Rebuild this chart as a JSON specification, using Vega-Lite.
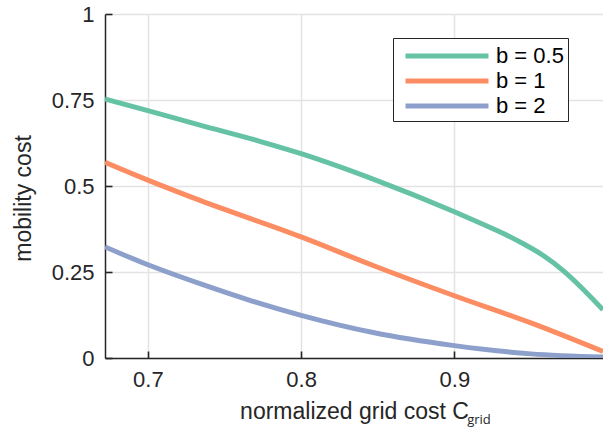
{
  "$schema": "https://vega.github.io/schema/vega-lite/v6.json",
  "width": 498,
  "height": 344,
  "autosize": {"type": "none"},
  "padding": {"left": 105, "top": 14, "right": 0, "bottom": 69},
  "background": "white",
  "config": {
    "view": {"stroke": null},
    "font": "Liberation Sans",
    "axis": {
      "domainColor": "#262626",
      "domainWidth": 1.5,
      "tickColor": "#262626",
      "tickWidth": 1.6,
      "tickSize": -7,
      "gridColor": "#e3e3e3",
      "gridWidth": 1.5,
      "labelColor": "#262626",
      "labelFontSize": 22,
      "titleColor": "#262626",
      "titleFontSize": 23,
      "titleFontWeight": "normal"
    }
  },
  "data": {
    "values": [
      {"x": 0.672, "y": 0.753, "b": "b = 0.5"},
      {"x": 0.700, "y": 0.719, "b": "b = 0.5"},
      {"x": 0.734, "y": 0.677, "b": "b = 0.5"},
      {"x": 0.773, "y": 0.630, "b": "b = 0.5"},
      {"x": 0.800, "y": 0.594, "b": "b = 0.5"},
      {"x": 0.847, "y": 0.520, "b": "b = 0.5"},
      {"x": 0.900, "y": 0.425, "b": "b = 0.5"},
      {"x": 0.919, "y": 0.388, "b": "b = 0.5"},
      {"x": 0.932, "y": 0.362, "b": "b = 0.5"},
      {"x": 0.945, "y": 0.332, "b": "b = 0.5"},
      {"x": 0.958, "y": 0.298, "b": "b = 0.5"},
      {"x": 0.971, "y": 0.254, "b": "b = 0.5"},
      {"x": 0.984, "y": 0.200, "b": "b = 0.5"},
      {"x": 0.997, "y": 0.140, "b": "b = 0.5"},
      {"x": 0.672, "y": 0.569, "b": "b = 1"},
      {"x": 0.700, "y": 0.517, "b": "b = 1"},
      {"x": 0.734, "y": 0.458, "b": "b = 1"},
      {"x": 0.800, "y": 0.352, "b": "b = 1"},
      {"x": 0.847, "y": 0.269, "b": "b = 1"},
      {"x": 0.900, "y": 0.181, "b": "b = 1"},
      {"x": 0.950, "y": 0.102, "b": "b = 1"},
      {"x": 0.997, "y": 0.019, "b": "b = 1"},
      {"x": 0.672, "y": 0.323, "b": "b = 2"},
      {"x": 0.700, "y": 0.271, "b": "b = 2"},
      {"x": 0.734, "y": 0.216, "b": "b = 2"},
      {"x": 0.767, "y": 0.167, "b": "b = 2"},
      {"x": 0.800, "y": 0.124, "b": "b = 2"},
      {"x": 0.847, "y": 0.074, "b": "b = 2"},
      {"x": 0.900, "y": 0.036, "b": "b = 2"},
      {"x": 0.950, "y": 0.012, "b": "b = 2"},
      {"x": 0.997, "y": 0.003, "b": "b = 2"}
    ]
  },
  "mark": {"type": "line", "strokeWidth": 5, "clip": true, "interpolate": "monotone"},
  "encoding": {
    "x": {
      "field": "x",
      "type": "quantitative",
      "scale": {"domain": [0.672, 0.997], "nice": false, "zero": false},
      "axis": {"values": [0.7, 0.8, 0.9], "format": ".1f", "title": "normalized grid cost C", "labelPadding": 18, "titlePadding": 10}
    },
    "y": {
      "field": "y",
      "type": "quantitative",
      "scale": {"domain": [0, 1], "nice": false},
      "axis": {"values": [0, 0.25, 0.5, 0.75, 1], "format": ".2~f", "title": "mobility cost", "labelPadding": 18, "titlePadding": 16, "titleY": 184}
    },
    "color": {
      "field": "b",
      "type": "nominal",
      "scale": {"domain": ["b = 0.5", "b = 1", "b = 2"], "range": ["#66c2a5", "#fc8d62", "#8da0cb"]},
      "legend": {
        "title": null,
        "orient": "none",
        "legendX": 288,
        "legendY": 24,
        "strokeColor": "#262626",
        "fillColor": "white",
        "padding": 4,
        "symbolType": "M-3.71,0H3.71",
        "symbolSize": 500,
        "symbolStrokeWidth": 5,
        "symbolOffset": 36,
        "labelOffset": 35,
        "labelFontSize": 22,
        "labelColor": "#000000",
        "rowPadding": 0
      }
    }
  },
  "title": {
    "text": "grid",
    "orient": "bottom",
    "anchor": "middle",
    "font": "Open Sans",
    "fontSize": 13,
    "fontWeight": "normal",
    "color": "#262626",
    "dx": 125,
    "dy": -13
  }
}
